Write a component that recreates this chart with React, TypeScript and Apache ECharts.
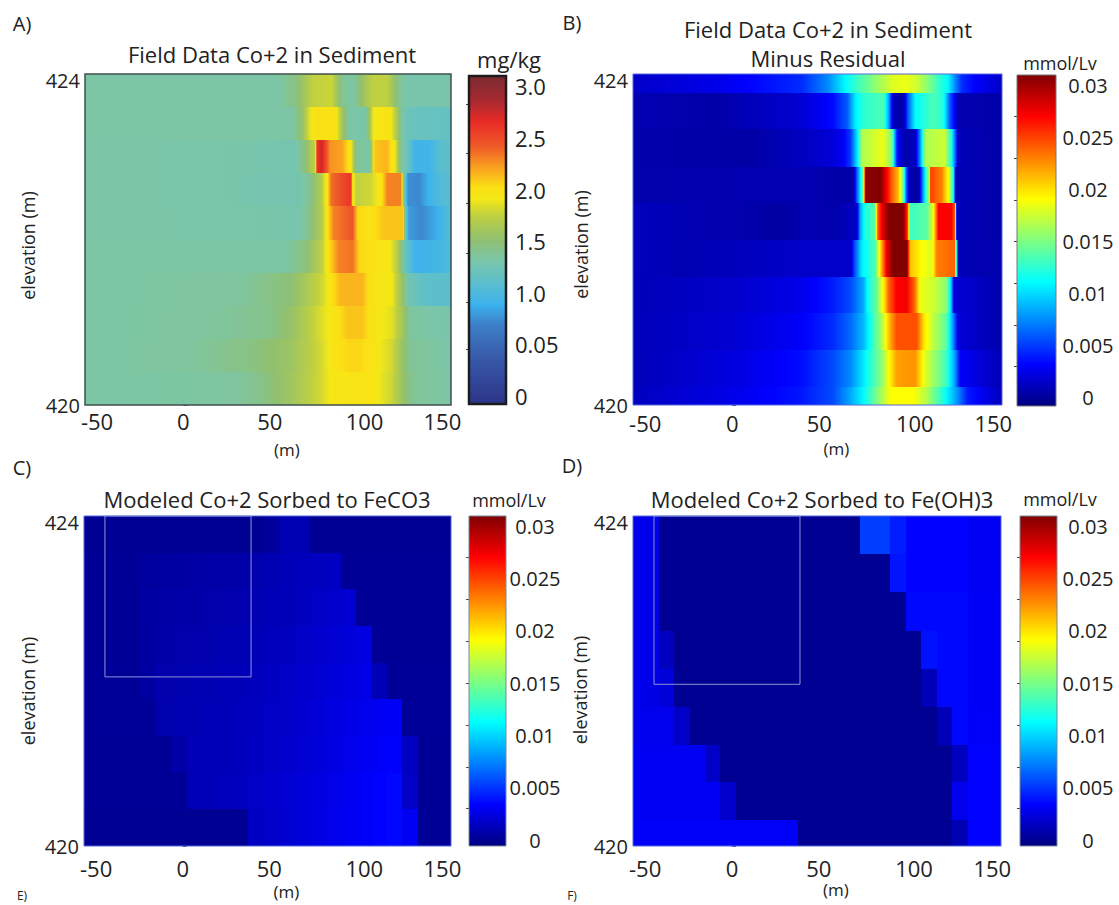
import React, { useEffect, useRef } from "react";
import * as echarts from "echarts";

const FONT = '"Open Sans", sans-serif';
const INK = "#222222";

// Distance axis and elevation axis
const xTicks = [-50, 0, 50, 100, 150];
const yLabelTicks = [420, 424];
const yMinorTicks = [420, 421, 422, 423, 424];
const xMin = -57;
const xMax = 155;

// Panel C / D cell edges (m)
const colEdges = [-60, -51.1, -42.2, -33.3, -24.4, -15.5, -6.6, 2.3, 11.2, 20.1, 29, 37.9, 46.8, 55.7, 64.6, 73.5, 82.4, 91.3, 100.2, 109.1, 118, 126.9, 135.8, 144.7, 153.6, 162.5];

// Row edges (elevation, m)
const rowEdgesA = [424, 423.6, 423.2, 422.8, 422.4, 422, 421.6, 421.2, 420.8, 420.4, 420];
const rowEdgesB = [424, 423.77, 423.33, 422.88, 422.44, 421.99, 421.55, 421.11, 420.66, 420.22, 420];
const rowEdgesC = [424, 423.556, 423.111, 422.667, 422.222, 421.778, 421.333, 420.889, 420.444, 420];
const rowEdgesD = [424, 423.54, 423.08, 422.61, 422.15, 421.69, 421.23, 420.77, 420.31, 420];

// Panel A: [x (m), Co+2 mg/kg] along each row, top to bottom
const fieldA1 = [[-57,1.33],[55,1.33],[65,1.45],[75,1.75],[86,1.78],[92,1.4],[98,1.33],[105,1.6],[110,1.75],[118,1.75],[125,1.4],[130,1.3],[155,1.3]];
const fieldA2 = [[-57,1.33],[63,1.33],[69,1.55],[73,1.85],[77,2.0],[88,2.0],[92,1.6],[96,1.33],[105.5,1.3],[110,1.9],[119,2.0],[123,1.7],[127,1.3],[132,1.2],[155,1.15]];
const fieldA3 = [[-57,1.33],[30,1.31],[58,1.28],[65,1.28],[71,1.5],[76,1.75],[77.5,2.6],[80,2.75],[82.5,2.5],[85,2.25],[92,2.2],[97,1.95],[100,1.4],[107.5,1.3],[111,2.1],[118,2.15],[123,1.85],[126,1.4],[130.5,1.15],[134,0.92],[142,0.92],[150,1.1],[155,1.1]];
const fieldA4 = [[-57,1.33],[30,1.31],[44,1.27],[67,1.27],[73,1.4],[80,1.7],[83.5,2.0],[85.5,2.35],[92,2.5],[97,2.6],[98,2.0],[100,1.75],[109,1.8],[115,2.0],[118,2.3],[126,2.3],[128,1.3],[130,0.75],[136.5,0.72],[142,0.9],[150,1.05],[155,1.05]];
const fieldA5 = [[-57,1.33],[50,1.31],[66,1.29],[72,1.4],[80.5,1.7],[83.5,2.0],[87,2.3],[98,2.45],[101,2.05],[109,2.0],[116,2.1],[127,2.1],[128.5,1.3],[130.5,0.8],[138,0.72],[148,0.9],[155,1.05]];
const fieldA6 = [[-57,1.33],[58,1.33],[70,1.45],[80.5,1.75],[84,2.0],[90,2.3],[98,2.35],[102,2.05],[119,1.95],[124,1.7],[128.5,1.2],[134,0.9],[142,0.92],[155,1.0]];
const fieldA7 = [[-57,1.33],[35,1.36],[63,1.5],[80.5,1.8],[86,2.0],[91,2.15],[103.6,2.15],[107.5,2.0],[121,1.9],[126.7,1.55],[130.5,1.25],[140,1.12],[155,1.1]];
const fieldA8 = [[-57,1.33],[20,1.36],[50,1.42],[63,1.55],[80.5,1.85],[88,1.98],[95,2.1],[103.6,2.1],[109,1.98],[121,1.85],[127,1.6],[131.5,1.35],[155,1.3]];
const fieldA9 = [[-57,1.33],[5,1.36],[40,1.45],[63,1.58],[80.5,1.82],[87,1.98],[96,2.05],[102,2.05],[109,1.98],[121,1.8],[127,1.55],[131.5,1.38],[155,1.32]];
const fieldA10 = [[-57,1.33],[30,1.35],[44,1.42],[63,1.6],[80.5,1.82],[87,1.95],[109,1.97],[121,1.78],[128.5,1.5],[134,1.38],[155,1.33]];
const rowsA = [fieldA1, fieldA2, fieldA3, fieldA4, fieldA5, fieldA6, fieldA7, fieldA8, fieldA9, fieldA10];

// Panel B: [x (m), mmol/Lv] along each row, top to bottom
const residB1 = [[-57,.0015],[-10,.0025],[16,.0035],[40,.0045],[55,.0075],[65,.011],[72,.013],[82,.0155],[92,.018],[100,.0185],[106,.0175],[112,.0155],[118,.013],[124,.011],[128,.0075],[132,.0045],[140,.003],[155,.0015]];
const residB2 = [[-57,.0008],[-10,.0005],[39,.0018],[58,.0035],[66,.006],[70.6,.0105],[75.4,.0125],[87,.0135],[90,.008],[92.6,.001],[98.4,.0005],[101,.006],[105,.011],[115.6,.0135],[121.4,.012],[125,.006],[130,.0008],[155,.0005]];
const residB3 = [[-57,.0006],[10,.0004],[39,.0012],[58,.002],[64,.003],[68,.005],[72.5,.0115],[74.4,.0165],[87,.0185],[91.7,.015],[94.6,.004],[98.4,.0006],[105,.001],[108,.008],[111,.0165],[122,.0175],[126,.012],[130,.001],[155,.0005]];
const residB4 = [[-57,.0006],[39,.0008],[54,.0006],[69.7,.0004],[71.6,.006],[73.5,.0105],[75.4,.016],[76.7,.0305],[85,.031],[88,.028],[91.7,.024],[95.5,.021],[98.4,.014],[100,.006],[102,.0006],[107,.0005],[110,.009],[112.8,.016],[114,.025],[120.4,.023],[124,.019],[127,.012],[128.5,.001],[155,.0005]];
const residB5 = [[-57,.0012],[-25,.0008],[10,.0006],[25,.0003],[45,.0008],[60,.0006],[71.6,.0015],[73.5,.0085],[76.4,.012],[82,.014],[83.6,.024],[86,.0275],[90,.031],[98.4,.031],[100.7,.025],[102.2,.013],[112,.014],[115.6,.019],[118.5,.027],[126,.027],[128,.024],[129,.001],[155,.0005]];
const residB6 = [[-57,.0012],[-30,.0008],[39,.0015],[68,.0015],[70.6,.006],[74.4,.0105],[82,.0135],[86,.022],[89,.028],[92.6,.031],[100.3,.031],[102.2,.021],[109,.019],[114.7,.018],[117.5,.023],[128,.024],[129,.011],[130,.001],[155,.0006]];
const residB7 = [[-57,.001],[0,.0016],[39,.0025],[58,.004],[68,.0055],[75.4,.0085],[78,.0115],[83,.0145],[87,.0195],[90,.024],[94.5,.027],[100,.0275],[105,.0235],[108,.0185],[115.6,.0175],[123,.0155],[125.6,.01],[127.5,.002],[155,.0006]];
const residB8 = [[-57,.001],[0,.0018],[39,.003],[58,.0045],[68,.0065],[75.4,.009],[79,.0115],[86,.0165],[90,.021],[94.5,.0245],[106,.0245],[110,.02],[115.6,.017],[123,.014],[127,.0075],[130,.002],[155,.0006]];
const residB9 = [[-57,.001],[0,.0022],[39,.0035],[58,.0055],[68,.0075],[75.4,.0105],[86,.0155],[90,.019],[94.5,.022],[105,.0225],[111,.018],[123,.013],[128,.008],[131,.003],[155,.0008]];
const residB10 = [[-57,.0012],[0,.0025],[39,.0038],[58,.0055],[68,.0085],[75.4,.011],[85,.016],[91,.019],[104,.019],[111,.017],[121.4,.012],[129,.008],[135,.004],[155,.001]];
const rowsB = [residB1, residB2, residB3, residB4, residB5, residB6, residB7, residB8, residB9, residB10];

// Panel C: sorbed to FeCO3, 10^-3 mmol/Lv per cell, top to bottom
const modelC1 = [0,0,0,0,0,0,0,0,0,0,0,0,.3,1,1,0,0,0,0,0,0,0,0,0,0];
const modelC2 = [.1,.1,.1,.1,.4,.5,.5,.6,.6,.7,.7,.9,1,1.2,1.3,1.4,1.5,.1,.1,.1,.1,.1,.1,.1,.1];
const modelC3 = [.1,.1,.1,.1,.5,.6,.7,.7,.8,.8,.9,1,1.1,1.2,1.4,1.6,1.8,2,.1,.1,.1,.1,.1,.1,.1];
const modelC4 = [.1,.1,.1,.1,.5,.7,.8,.8,.9,1,1,1.1,1.3,1.4,1.6,1.8,2,2.2,2.4,.1,.1,.1,.1,.1,.1];
const modelC5 = [.2,.2,.2,.2,.5,.8,.9,1,1,1.1,1.2,1.3,1.5,1.6,1.8,2,2.2,2.4,2.6,1.2,.2,.2,.2,.2,.2];
const modelC6 = [.2,.2,.2,.2,.2,.9,1,1,1.1,1.2,1.3,1.4,1.6,1.7,1.9,2.1,2.4,2.6,2.8,3,3.1,.2,.2,.2,.2];
const modelC7 = [.1,.1,.1,.1,.1,.1,.6,1.1,1.1,1.2,1.3,1.5,1.6,1.8,2,2.2,2.5,2.8,3,3.2,3.3,1.5,.1,.1,.1];
const modelC8 = [.1,.1,.1,.1,.1,.1,.1,1.1,1.2,1.3,1.4,1.6,1.8,2,2.2,2.4,2.7,3,3.2,3.4,3.6,1.6,.1,.1,.1];
const modelC9 = [0,0,0,0,0,0,0,0,0,0,0,1.5,1.7,2,2.2,2.5,2.8,3,3.2,3.4,3.6,3,.2,.1,.1];
const rowsC = [modelC1, modelC2, modelC3, modelC4, modelC5, modelC6, modelC7, modelC8, modelC9];

// Panel D: sorbed to Fe(OH)3, 10^-3 mmol/Lv per cell, top to bottom
const modelD1 = [2.8,2.6,0,0,0,0,0,0,0,0,0,0,0,0,0,5.3,5.3,4.2,3.4,3.4,3.4,3.4,3,3,3];
const modelD2 = [2.8,2.6,0,0,0,0,0,0,0,0,0,0,0,0,0,0,0,4,3.4,3.4,3.4,3.4,3,3,3];
const modelD3 = [2.8,2.6,0,0,0,0,0,0,0,0,0,0,0,0,0,0,0,0,3.6,3.6,3.6,3.6,3.1,3.1,3.1];
const modelD4 = [2.8,2.6,1.4,0,0,0,0,0,0,0,0,0,0,0,0,0,0,0,0,3.9,3.6,3.6,3.1,3.1,3.1];
const modelD5 = [2.8,2.6,2.2,0,0,0,0,0,0,0,0,0,0,0,0,0,0,0,0,1.2,3.6,3.6,3.1,3.1,3.1];
const modelD6 = [2.8,2.8,2.8,1.6,0,0,0,0,0,0,0,0,0,0,0,0,0,0,0,0,1.2,3.6,3.2,3.2,3.2];
const modelD7 = [3,3,3,3,3,1.6,0,0,0,0,0,0,0,0,0,0,0,0,0,0,0,1.4,3.4,3.4,3.4];
const modelD8 = [3,3,3,3,3,3,1.8,0,0,0,0,0,0,0,0,0,0,0,0,0,0,2.8,3.4,3.4,3.4];
const modelD9 = [3.2,3.2,3.2,3.2,3.2,3.2,3.2,3.2,3.2,3.2,3.2,0,0,0,0,0,0,0,0,0,0,1,3.4,3.4,3.4];
const rowsD = [modelD1, modelD2, modelD3, modelD4, modelD5, modelD6, modelD7, modelD8, modelD9];

// Faint rectangles in panels C and D: [x0, y0, x1, y1]
const boxC = [-44.9, 424, 39.5, 422.05];
const boxD = [-44.9, 424, 39.2, 421.96];

// Colour bars
const mgTicks = [0, 0.5, 1, 1.5, 2, 2.5, 3];
const mgLabels = ["0", "0.05", "1.0", "1.5", "2.0", "2.5", "3.0"];
const mgMinor = [0.45, 0.91, 1.38, 1.87, 2.35, 2.83];
const mmolTicks = [0, 0.005, 0.01, 0.015, 0.02, 0.025, 0.03];
const mmolLabels = ["0", "0.005", "0.01", "0.015", "0.02", "0.025", "0.03"];
const mmolMinor = [0.003, 0.007, 0.011, 0.015, 0.019, 0.023, 0.027];

const mgStops: [number, string][] = [
  [-0.077, "#2c3488"], [0.356, "#3858a8"], [0.69, "#3c80c8"], [0.885, "#3cb2ee"], [1.125, "#60c0c8"],
  [1.33, "#7cc6a6"], [1.51, "#90c070"], [1.75, "#c0d040"], [1.91, "#f4e816"], [2.02, "#fbe014"],
  [2.23, "#f89a20"], [2.42, "#ee5a28"], [2.66, "#e82a26"], [2.86, "#a82a30"], [3.1, "#7a2a30"],
];
const jetFractions: [number, string][] = [
  [0, "#000080"], [0.125, "#0000ff"], [0.375, "#00ffff"], [0.625, "#ffff00"], [0.875, "#ff0000"], [1, "#800000"],
];

type Scale = { min: number; max: number; stops: [number, string][] };
const jet = (min: number, max: number): Scale => ({
  min, max, stops: jetFractions.map(([f, c]) => [min + f * (max - min), c] as [number, string]),
});
const scaleA: Scale = { min: -0.077, max: 3.1, stops: mgStops };
const scaleB = jet(-0.00077, 0.03096);
const scaleCD = jet(-0.00057, 0.03096);

function hexRgb(h: string) {
  return [parseInt(h.slice(1, 3), 16), parseInt(h.slice(3, 5), 16), parseInt(h.slice(5, 7), 16)];
}
function colorOf(s: Scale, v: number) {
  const st = s.stops;
  if (v <= st[0][0]) return st[0][1];
  for (let i = 1; i < st.length; i++) {
    if (v <= st[i][0]) {
      const t = (v - st[i - 1][0]) / (st[i][0] - st[i - 1][0]);
      const a = hexRgb(st[i - 1][1]);
      const b = hexRgb(st[i][1]);
      return `rgb(${a.map((c, k) => Math.round(c + (b[k] - c) * t)).join(",")})`;
    }
  }
  return st[st.length - 1][1];
}

function shadedStops(row: number[][], s: Scale) {
  const out: { offset: number; color: string }[] = [];
  for (let i = 1; i < row.length; i++) {
    const [x0, v0] = row[i - 1];
    const [x1, v1] = row[i];
    const n = 6;
    for (let j = i === 1 ? 0 : 1; j <= n; j++) {
      const t = j / n;
      out.push({
        offset: (x0 + (x1 - x0) * t - xMin) / (xMax - xMin),
        color: colorOf(s, v0 + (v1 - v0) * t),
      });
    }
  }
  return out;
}

function shadedSeries(index: number, rows: number[][][], edges: number[], s: Scale) {
  return {
    type: "custom",
    xAxisIndex: index,
    yAxisIndex: index,
    silent: true,
    data: rows.map((_, i) => [i]),
    renderItem: (_: any, api: any) => {
      const i = api.value(0);
      const a = api.coord([xMin, edges[i]]);
      const b = api.coord([xMax, edges[i + 1]]);
      const y0 = Math.round(a[1]);
      const y1 = Math.round(b[1]);
      return {
        type: "rect",
        shape: { x: a[0], y: y0, width: b[0] - a[0], height: y1 - y0 },
        style: {
          fill: { type: "linear", x: 0, y: 0, x2: 1, y2: 0, colorStops: shadedStops(rows[i], s) },
        },
      };
    },
  };
}

function cellSeries(index: number, rows: number[][], edges: number[], s: Scale) {
  const cells: number[][] = [];
  rows.forEach((row, r) => row.forEach((v, c) => cells.push([c, r, v])));
  return {
    type: "custom",
    xAxisIndex: index,
    yAxisIndex: index,
    silent: true,
    data: cells,
    renderItem: (_: any, api: any) => {
      const c = api.value(0);
      const r = api.value(1);
      const a = api.coord([Math.max(colEdges[c], xMin), edges[r]]);
      const b = api.coord([Math.min(colEdges[c + 1], xMax), edges[r + 1]]);
      const x0 = Math.round(a[0]);
      const x1 = Math.round(b[0]);
      const y0 = Math.round(a[1]);
      const y1 = Math.round(b[1]);
      return {
        type: "rect",
        shape: { x: x0, y: y0, width: x1 - x0, height: y1 - y0 },
        style: { fill: colorOf(s, api.value(2) * 0.001) },
      };
    },
  };
}

function frameSeries(index: number, rect: number[], color: string, width: number) {
  return {
    type: "custom",
    xAxisIndex: index,
    yAxisIndex: index,
    silent: true,
    z: 5,
    data: [rect],
    renderItem: (_: any, api: any) => {
      const a = api.coord([api.value(0), api.value(1)]);
      const b = api.coord([api.value(2), api.value(3)]);
      return {
        type: "rect",
        shape: { x: a[0], y: a[1], width: b[0] - a[0], height: b[1] - a[1] },
        style: { fill: "none", stroke: color, lineWidth: width },
      };
    },
  };
}

function barSeries(index: number, s: Scale, edge: string, edgeWidth: number) {
  return {
    type: "custom",
    xAxisIndex: index,
    yAxisIndex: index,
    silent: true,
    data: [[0]],
    renderItem: (_: any, api: any) => {
      const a = api.coord([0, s.max]);
      const b = api.coord([1, s.min]);
      return {
        type: "rect",
        shape: { x: a[0], y: a[1], width: b[0] - a[0], height: b[1] - a[1] },
        style: {
          fill: {
            type: "linear", x: 0, y: 1, x2: 0, y2: 0,
            colorStops: s.stops.map(([v, c]) => ({ offset: (v - s.min) / (s.max - s.min), color: c })),
          },
          stroke: edge,
          lineWidth: edgeWidth,
        },
      };
    },
  };
}

const panels = [
  { plot: [85, 74, 366, 331], bar: [469, 76, 37, 328], yGap: 48, xGap: 36, xMargin: 5, nameShift: 12, frame: "#3f5050", frameW: 1.5 },
  { plot: [633, 74, 369, 331], bar: [1017, 75, 39, 331], yGap: 41, xGap: 35, xMargin: 7, nameShift: 10, frame: "#5566dd", frameW: 1 },
  { plot: [84, 516, 367, 330], bar: [469, 516, 37, 330], yGap: 47, xGap: 37, xMargin: 11, nameShift: 20, frame: "#5566dd", frameW: 1 },
  { plot: [633, 516, 368, 330], bar: [1020, 516, 37, 330], yGap: 44, xGap: 35, xMargin: 11, nameShift: 18, frame: "#5566dd", frameW: 1 },
];
const barTextStyles = [
  { labels: mgLabels, ticks: mgTicks, minor: mgMinor, scale: scaleA, size: 22, margin: 9, align: "left", edge: "#1c1c1c", edgeW: 2.5 },
  { labels: mmolLabels, ticks: mmolTicks, minor: mmolMinor, scale: scaleB, size: 20, margin: 32, align: "center", edge: "#777777", edgeW: 1 },
  { labels: mmolLabels, ticks: mmolTicks, minor: mmolMinor, scale: scaleCD, size: 20, margin: 29, align: "center", edge: "#778899", edgeW: 1 },
  { labels: mmolLabels, ticks: mmolTicks, minor: mmolMinor, scale: scaleCD, size: 20, margin: 31, align: "center", edge: "#778899", edgeW: 1 },
];

const titles = [
  { text: "Field Data Co+2 in Sediment", x: 272, y: 43, size: 22 },
  { text: "Field Data Co+2 in Sediment", x: 828, y: 18, size: 22 },
  { text: "Minus Residual", x: 828, y: 47, size: 22 },
  { text: "Modeled Co+2 Sorbed to FeCO3", x: 267, y: 488, size: 22 },
  { text: "Modeled Co+2 Sorbed to Fe(OH)3", x: 822, y: 488, size: 22 },
  { text: "mg/kg", x: 509, y: 48, size: 22 },
  { text: "mmol/Lv", x: 1060, y: 54, size: 18 },
  { text: "mmol/Lv", x: 509, y: 491, size: 18 },
  { text: "mmol/Lv", x: 1060, y: 490, size: 18 },
  { text: "A)", x: 22, y: 13, size: 20 },
  { text: "B)", x: 572, y: 12, size: 20 },
  { text: "C)", x: 22, y: 457, size: 20 },
  { text: "D)", x: 572, y: 455, size: 20 },
  { text: "E)", x: 22, y: 889, size: 12 },
  { text: "F)", x: 572, y: 889, size: 12 },
];

function buildOption() {
  const grid: any[] = [];
  const xAxis: any[] = [];
  const yAxis: any[] = [];
  const series: any[] = [];
  panels.forEach((p, i) => {
    const b = barTextStyles[i];
    grid.push({ left: p.plot[0], top: p.plot[1], width: p.plot[2], height: p.plot[3] });
    grid.push({ left: p.bar[0], top: p.bar[1], width: p.bar[2], height: p.bar[3] });
    xAxis.push({
      gridIndex: 2 * i,
      type: "value",
      min: xMin,
      max: xMax,
      name: "(m)",
      nameLocation: "middle",
      nameGap: p.xGap,
      nameTextStyle: { fontFamily: FONT, fontSize: 17, color: INK, padding: [0, 0, 0, 38] },
      splitLine: { show: false },
      axisLine: { show: false },
      axisTick: { show: false },
      axisLabel: {
        customValues: xTicks,
        margin: p.xMargin,
        fontFamily: FONT,
        fontSize: 22,
        color: INK,
        formatter: (v: number) => (v === 100 ? `{shift|100}` : String(v)),
        rich: { shift: { fontFamily: FONT, fontSize: 22, color: INK, padding: [0, 0, 0, 17] } },
      },
    });
    yAxis.push({
      gridIndex: 2 * i,
      type: "value",
      min: 420,
      max: 424,
      name: "elevation (m)",
      nameLocation: "middle",
      nameGap: p.yGap,
      nameTextStyle: { fontFamily: FONT, fontSize: 18, color: INK, padding: [0, p.nameShift, 0, 0] },
      splitLine: { show: false },
      axisLine: { show: false },
      axisTick: { show: true, inside: true, length: 4, customValues: yMinorTicks, lineStyle: { color: "#3344aa" } },
      axisLabel: {
        customValues: yLabelTicks,
        margin: 5,
        fontFamily: FONT,
        fontSize: 20,
        lineHeight: 12,
        color: INK,
        verticalAlignMaxLabel: "top",
      },
    });
    xAxis.push({
      gridIndex: 2 * i + 1, type: "value", min: 0, max: 1, show: false,
    });
    yAxis.push({
      gridIndex: 2 * i + 1,
      type: "value",
      position: "right",
      min: b.scale.min,
      max: b.scale.max,
      splitLine: { show: false },
      axisLine: { show: false },
      axisTick: { show: true, inside: true, length: 3, customValues: b.minor, lineStyle: { color: "#444444" } },
      axisLabel: {
        customValues: b.ticks,
        margin: b.margin,
        align: b.align,
        fontFamily: FONT,
        fontSize: b.size,
        color: INK,
        formatter: (v: number) => b.labels[b.ticks.findIndex((t) => Math.abs(t - v) < 1e-9)] ?? "",
      },
    });
    series.push(barSeries(2 * i + 1, b.scale, b.edge, b.edgeW));
  });
  series.push(shadedSeries(0, rowsA, rowEdgesA, scaleA));
  series.push(shadedSeries(2, rowsB, rowEdgesB, scaleB));
  series.push(cellSeries(4, rowsC, rowEdgesC, scaleCD));
  series.push(cellSeries(6, rowsD, rowEdgesD, scaleCD));
  series.push(frameSeries(0, [xMin, 424, xMax, 420], panels[0].frame, panels[0].frameW));
  series.push(frameSeries(2, [xMin, 424, xMax, 420], panels[1].frame, panels[1].frameW));
  series.push(frameSeries(4, [xMin, 424, xMax, 420], panels[2].frame, panels[2].frameW));
  series.push(frameSeries(6, [xMin, 424, xMax, 420], panels[3].frame, panels[3].frameW));
  series.push(frameSeries(4, boxC, "#8c92d8", 1));
  series.push(frameSeries(6, boxD, "#8c92d8", 1));
  return {
    animation: false,
    backgroundColor: "#ffffff",
    title: titles.map((t) => ({
      text: t.text,
      left: t.x,
      top: t.y,
      padding: 0,
      textAlign: "center",
      textStyle: { fontFamily: FONT, fontWeight: "normal", fontSize: t.size, color: INK },
    })),
    grid,
    xAxis,
    yAxis,
    series,
  };
}

export default function App() {
  const ref = useRef<HTMLDivElement>(null);
  useEffect(() => {
    document.body.style.margin = "0";
    const chart = echarts.init(ref.current!, null, { renderer: "svg" });
    chart.setOption(buildOption() as any);
    return () => chart.dispose();
  }, []);
  return <div ref={ref} style={{ width: 1119, height: 905 }} />;
}
